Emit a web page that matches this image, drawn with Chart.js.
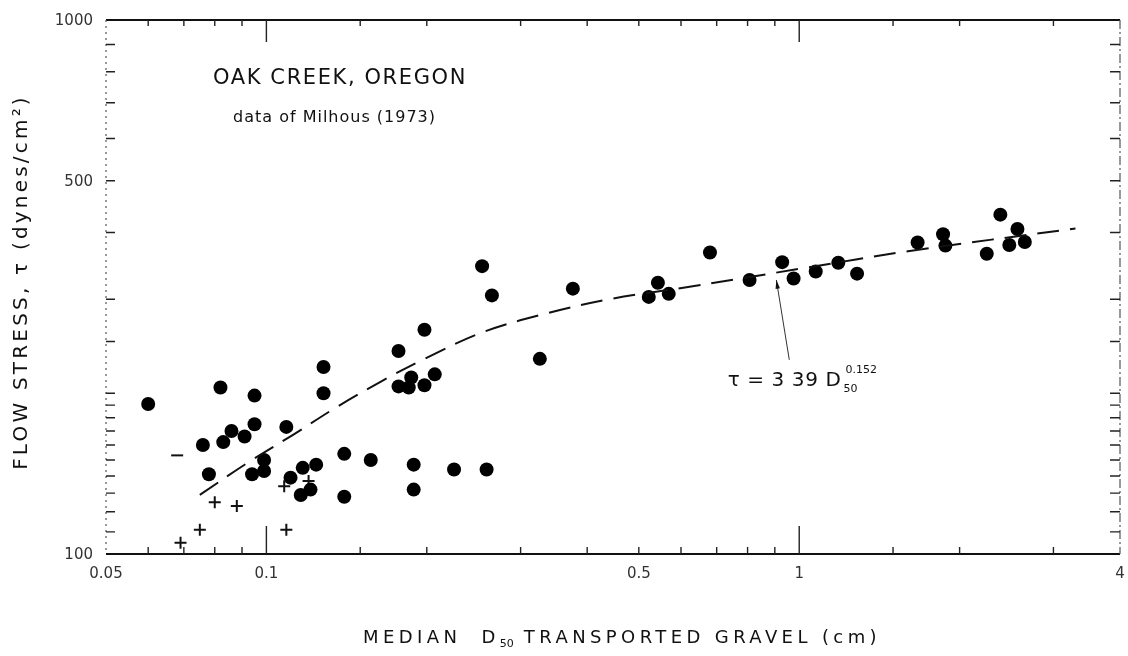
<!DOCTYPE html>
<html>
<head>
<meta charset="utf-8">
<title>Oak Creek, Oregon - flow stress vs median D50</title>
<script src="https://cdn.jsdelivr.net/npm/chart.js@4.4.1/dist/chart.umd.min.js"></script>
<style>
  html, body { margin: 0; padding: 0; background: #fff; }
  #wrap { width: 1128px; height: 656px; }
</style>
</head>
<body>
<div id="wrap"><canvas id="chart" width="1128" height="656"></canvas></div>
<script>
(function () {
    "use strict";

    // Gravel samples: median D50 (cm) and flow stress (dynes/cm2)
    var dotD = [0.060, 0.082, 0.095, 0.128, 0.128, 0.095, 0.086, 0.083, 0.091, 0.076,
                0.109, 0.078, 0.099, 0.094, 0.099, 0.111, 0.117, 0.124, 0.140, 0.157,
                0.116, 0.121, 0.140, 0.189, 0.189, 0.225, 0.259,
                0.254, 0.265, 0.376, 0.198, 0.177, 0.326, 0.207, 0.187, 0.177, 0.185,
                0.198, 0.522, 0.543, 0.569, 0.680,
                0.807, 0.929, 0.976, 1.074, 1.184, 1.284, 1.668, 1.862, 1.881, 2.249,
                2.385, 2.479, 2.568, 2.651];
    var dotTau = [191, 205, 198, 224, 200, 175, 170, 162, 166, 160,
                  173, 141, 150, 141, 143, 139, 145, 147, 154, 150,
                  129, 132, 128, 147, 132, 144, 144,
                  346, 305, 314, 263, 240, 232, 217, 214, 206, 205,
                  207, 303, 322, 307, 367,
                  326, 352, 328, 338, 351, 335, 383, 397, 378, 365,
                  432, 379, 406, 384];

    // Samples plotted with a cross
    var crossD = [0.080, 0.088, 0.075, 0.069, 0.109, 0.108, 0.120];
    var crossTau = [125, 123, 111, 105, 111, 134, 137];

    // Single sample plotted with a short dash
    var dashD = [0.068];
    var dashTau = [153];

    // Dashed trend curve
    var fitD = [0.075, 0.092, 0.112, 0.135, 0.165, 0.198, 0.254, 0.330, 0.440, 0.602, 1.02, 1.60, 3.30];
    var fitTau = [129, 148, 167, 188, 211, 232, 260, 281, 300, 315, 343, 369, 407];

    // Axis limits and labelled ticks
    var xMin = 0.05, xMax = 4;
    var yMin = 100, yMax = 1000;
    var xLabelValues = [0.05, 0.1, 0.5, 1, 4];
    var yLabelValues = [100, 500, 1000];

    // Arrow from the equation to the curve
    var arrowFrom = {x: 0.958, y: 231};
    var arrowTo = {x: 0.906, y: 326};
    var eqAt = {x: 0.734, y: 206};

    var FONT = '"DejaVu Sans", "Liberation Sans", sans-serif';

    function pairs(xs, ys) {
        return xs.map(function (x, i) { return {x: x, y: ys[i]}; });
    }

    function isDecade(v) {
        var m = v / Math.pow(10, Math.floor(Math.log10(v) + 1e-9));
        return Math.abs(m - 1) < 1e-6;
    }

    function sameValue(a, b) {
        return Math.abs(a - b) / b < 1e-6;
    }

    // Each run: text, size, optional vertical shift and letter spacing
    function runsWidth(ctx, runs) {
        var w = 0;
        runs.forEach(function (r) {
            ctx.font = r.size + 'px ' + FONT;
            ctx.letterSpacing = (r.sp || 0) + 'px';
            w += ctx.measureText(r.t).width;
        });
        ctx.letterSpacing = '0px';
        return w;
    }

    function drawRuns(ctx, x, y, runs) {
        var cx = x;
        runs.forEach(function (r) {
            ctx.font = r.size + 'px ' + FONT;
            ctx.letterSpacing = (r.sp || 0) + 'px';
            ctx.fillText(r.t, cx, y + (r.dy || 0));
            cx += ctx.measureText(r.t).width;
        });
        ctx.letterSpacing = '0px';
        return cx - x;
    }

    var framePlugin = {
        id: 'frame',
        beforeDatasetsDraw: function (chart) {
            var ctx = chart.ctx;
            var a = chart.chartArea;
            var xs = chart.scales.x, ys = chart.scales.y;
            ctx.save();

            // top and bottom borders
            ctx.strokeStyle = '#111';
            ctx.lineWidth = 2;
            ctx.beginPath();
            ctx.moveTo(a.left, a.top); ctx.lineTo(a.right, a.top);
            ctx.moveTo(a.left, a.bottom); ctx.lineTo(a.right, a.bottom);
            ctx.stroke();

            // faint dotted left border, dash-dot right border
            ctx.lineWidth = 1.2;
            ctx.strokeStyle = '#555';
            ctx.setLineDash([2, 4]);
            ctx.beginPath();
            ctx.moveTo(a.left, a.top); ctx.lineTo(a.left, a.bottom);
            ctx.stroke();
            ctx.setLineDash([9, 3, 2, 3]);
            ctx.beginPath();
            ctx.moveTo(a.right, a.top); ctx.lineTo(a.right, a.bottom);
            ctx.stroke();
            ctx.setLineDash([]);

            // inward tick marks
            ctx.strokeStyle = '#222';
            ctx.lineWidth = 1.4;
            ctx.beginPath();
            xs.ticks.forEach(function (t) {
                if (sameValue(t.value, xMin) || sameValue(t.value, xMax)) return;
                var px = xs.getPixelForValue(t.value);
                var big = isDecade(t.value);
                ctx.moveTo(px, a.bottom); ctx.lineTo(px, a.bottom - (big ? 28 : 7));
                ctx.moveTo(px, a.top); ctx.lineTo(px, a.top + (big ? 22 : 6));
            });
            ys.ticks.forEach(function (t) {
                if (sameValue(t.value, yMin) || sameValue(t.value, yMax)) return;
                var py = ys.getPixelForValue(t.value);
                ctx.moveTo(a.left, py); ctx.lineTo(a.left + 9, py);
                ctx.moveTo(a.right, py); ctx.lineTo(a.right - 10, py);
            });
            ctx.stroke();
            ctx.restore();
        },
        afterDraw: function (chart) {
            var ctx = chart.ctx;
            var a = chart.chartArea;
            var xs = chart.scales.x, ys = chart.scales.y;
            ctx.save();

            // tick labels
            ctx.fillStyle = '#333';
            ctx.font = '15px ' + FONT;
            ctx.textBaseline = 'middle';
            ctx.textAlign = 'center';
            xLabelValues.forEach(function (v) {
                ctx.fillText(String(v), xs.getPixelForValue(v), a.bottom + 20);
            });
            ctx.textAlign = 'right';
            yLabelValues.forEach(function (v) {
                ctx.fillText(String(v), a.left - 13, ys.getPixelForValue(v) + 1);
            });

            // site heading
            ctx.fillStyle = '#111';
            ctx.textAlign = 'left';
            ctx.textBaseline = 'alphabetic';
            drawRuns(ctx, 213, 84, [{t: 'OAK CREEK, OREGON', size: 21, sp: 1.6}]);
            drawRuns(ctx, 233, 122, [{t: 'data of Milhous (1973)', size: 16, sp: 1}]);

            // x axis title
            var xt = [
                {t: 'MEDIAN  D', size: 18, sp: 4.4},
                {t: '50', size: 11, dy: 4, sp: 0},
                {t: ' TRANSPORTED GRAVEL (cm)', size: 18, sp: 4.4}
            ];
            var xw = runsWidth(ctx, xt);
            drawRuns(ctx, 622 - xw / 2, 643, xt);

            // y axis title, rotated
            ctx.save();
            ctx.translate(27, 282);
            ctx.rotate(-Math.PI / 2);
            var yt = [{t: 'FLOW STRESS, \u03c4 (dynes/cm\u00b2)', size: 20, sp: 3.2}];
            var yw = runsWidth(ctx, yt);
            drawRuns(ctx, -yw / 2, 0, yt);
            ctx.restore();

            // equation of the curve
            var ex = xs.getPixelForValue(eqAt.x);
            var ey = ys.getPixelForValue(eqAt.y);
            var w = drawRuns(ctx, ex, ey, [{t: '\u03c4 = 3 39 D', size: 20, sp: 0.6}]);
            ctx.font = '11px ' + FONT;
            ctx.fillText('50', ex + w + 2, ey + 6);
            ctx.fillText('0.152', ex + w + 4, ey - 13);

            // arrow pointing to the curve
            var x0 = xs.getPixelForValue(arrowFrom.x), y0 = ys.getPixelForValue(arrowFrom.y);
            var x1 = xs.getPixelForValue(arrowTo.x), y1 = ys.getPixelForValue(arrowTo.y);
            ctx.strokeStyle = '#333';
            ctx.lineWidth = 1;
            ctx.beginPath();
            ctx.moveTo(x0, y0); ctx.lineTo(x1, y1);
            ctx.stroke();
            var ang = Math.atan2(y1 - y0, x1 - x0);
            ctx.fillStyle = '#111';
            ctx.beginPath();
            ctx.moveTo(x1, y1);
            ctx.lineTo(x1 - 9 * Math.cos(ang - 0.25), y1 - 9 * Math.sin(ang - 0.25));
            ctx.lineTo(x1 - 9 * Math.cos(ang + 0.25), y1 - 9 * Math.sin(ang + 0.25));
            ctx.closePath();
            ctx.fill();

            ctx.restore();
        }
    };

    var ctx = document.getElementById('chart').getContext('2d');
    var myChart = new Chart(ctx, {
        type: 'scatter',
        data: {
            datasets: [
                {
                    label: 'curve',
                    data: pairs(fitD, fitTau),
                    showLine: true,
                    borderColor: '#111',
                    borderWidth: 2,
                    borderDash: [22, 11],
                    tension: 0.35,
                    pointRadius: 0,
                    fill: false
                },
                {
                    label: 'samples',
                    data: pairs(dotD, dotTau),
                    pointStyle: 'circle',
                    pointRadius: 7,
                    backgroundColor: '#000',
                    borderColor: '#000',
                    borderWidth: 0
                },
                {
                    label: 'crosses',
                    data: pairs(crossD, crossTau),
                    pointStyle: 'cross',
                    pointRadius: 6,
                    borderColor: '#111',
                    borderWidth: 2
                },
                {
                    label: 'dash',
                    data: pairs(dashD, dashTau),
                    pointStyle: 'line',
                    pointRadius: 6,
                    borderColor: '#111',
                    borderWidth: 2
                }
            ]
        },
        options: {
            responsive: false,
            devicePixelRatio: 1,
            animation: false,
            layout: {
                padding: {left: 98, right: 7, top: 20, bottom: 94}
            },
            plugins: {
                legend: {display: false},
                tooltip: {enabled: false}
            },
            scales: {
                x: {
                    type: 'logarithmic',
                    min: xMin,
                    max: xMax,
                    grid: {display: false},
                    border: {display: false},
                    ticks: {display: false}
                },
                y: {
                    type: 'logarithmic',
                    min: yMin,
                    max: yMax,
                    grid: {display: false},
                    border: {display: false},
                    ticks: {display: false}
                }
            }
        },
        plugins: [framePlugin]
    });
})();
</script>
</body>
</html>
